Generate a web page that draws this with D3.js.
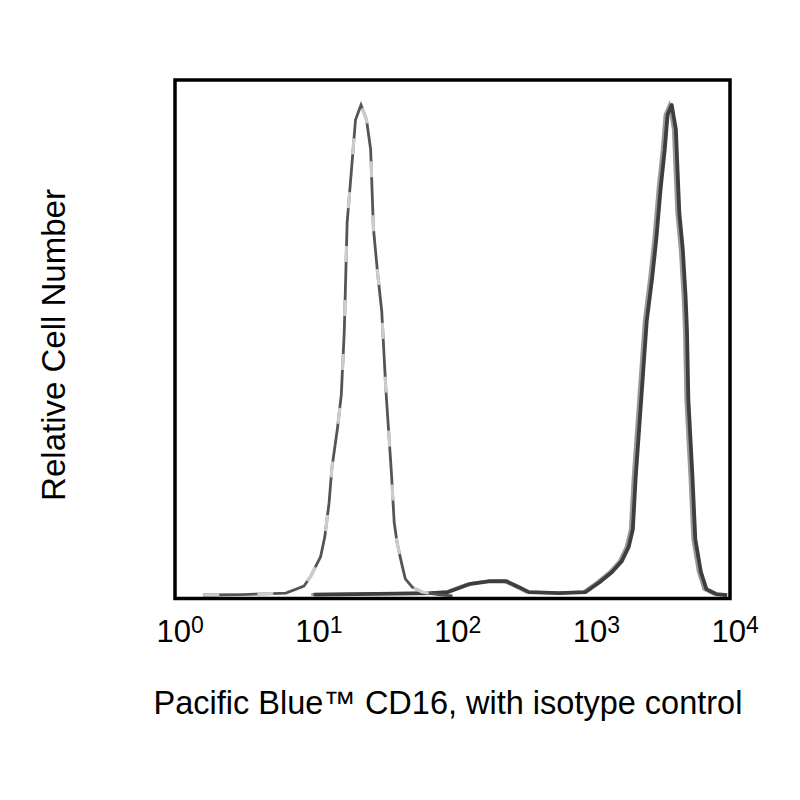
<!DOCTYPE html>
<html>
<head>
<meta charset="utf-8">
<script src="https://cdn.jsdelivr.net/npm/d3@7"></script>
<style>
  html, body { margin: 0; padding: 0; background: #fff; }
  svg { display: block; font-family: "Liberation Sans", Arial, sans-serif; }
</style>
</head>
<body>
<svg id="chart" width="800" height="800"></svg>
<script>
// ---- data ----
const tickValues = [1, 10, 100, 1000, 10000];
const tickExponents = ["0", "1", "2", "3", "4"];

// isotype control histogram: intensity and relative count (% of max)
const isoIntensity = [1.6, 3, 5, 6.3, 8.5, 9.5, 11.2, 12.0, 12.9, 13.5, 14.8, 15.8, 16.6, 17.4, 18.6, 20.0, 21.9, 24.0, 25.7, 26.9, 28.8, 30.9, 33.1, 36.3, 38.0, 39.8, 42.7, 45.7, 51.3, 60.3, 79, 100];
const isoCount     = [0.2, 0.3, 0.5, 0.6, 2, 4, 8, 12, 19, 26, 34, 41, 54, 76, 86, 97, 100, 97, 91, 75, 66, 58, 42, 25, 15, 11, 7, 3.5, 1.8, 0.8, 0.3, 0];

// Pacific Blue CD16 stained histogram
const cd16Intensity = [10, 20, 40, 70, 93, 132, 182, 245, 302, 355, 589, 912, 1148, 1413, 1660, 1862, 1995, 2089, 2291, 2512, 2754, 2951, 3162, 3388, 3548, 3802, 4074, 4169, 4315, 4571, 4786, 4898, 5012, 5370, 5623, 6166, 6761, 7943, 9550];
const cd16Count     = [0.3, 0.4, 0.5, 0.6, 0.8, 2.4, 3.0, 3.0, 1.8, 0.8, 0.6, 0.8, 2.8, 4.9, 7.1, 10, 13.6, 24, 40, 56, 65, 73, 83, 91, 98, 100, 95, 88, 78, 70.5, 61, 54, 40, 24, 11.6, 4.9, 1.4, 0.4, 0.2];

const xTitle = "Pacific Blue\u2122 CD16, with isotype control";
const yTitle = "Relative Cell Number";

// ---- layout ----
const svg = d3.select("#chart");
const pLeft = 175, pRight = 730, pTop = 80, pBottom = 598.5;

const x = d3.scaleLog().domain([1, 10000]).range([pLeft, pRight]);
const y = d3.scaleLinear().domain([0, 100]).range([596, 105]);

const iso = isoIntensity.map((v, i) => [v, isoCount[i]]);
const cd16 = cd16Intensity.map((v, i) => [v, cd16Count[i]]);

const line = d3.line().x(d => x(d[0])).y(d => y(d[1])).curve(d3.curveLinear);

const g = svg.append("g");

// CD16 curve: lighter shadow + dark main
g.append("path").datum(cd16)
  .attr("d", line).attr("fill", "none")
  .attr("stroke", "#9a9a9a").attr("stroke-width", 3)
  .attr("transform", "translate(-2.5,0)");
g.append("path").datum(cd16)
  .attr("d", line).attr("fill", "none")
  .attr("stroke", "#3e3e3e").attr("stroke-width", 3.8)
  .attr("stroke-linejoin", "round");

// isotype curve: gray with light dashes
g.append("path").datum(iso)
  .attr("d", line).attr("fill", "none")
  .attr("stroke", "#555").attr("stroke-width", 2.8);
g.append("path").datum(iso)
  .attr("d", line).attr("fill", "none")
  .attr("stroke", "#cccccc").attr("stroke-width", 3.2)
  .attr("stroke-dasharray", "16 38");

// frame
svg.append("rect")
  .attr("x", pLeft).attr("y", pTop)
  .attr("width", pRight - pLeft).attr("height", pBottom - pTop)
  .attr("fill", "none").attr("stroke", "#000").attr("stroke-width", 3.5);

// x axis tick labels via d3 axis
const axis = d3.axisBottom(x).tickValues(tickValues).tickSize(0).tickFormat(() => "");
const ax = svg.append("g").attr("transform", `translate(0,${pBottom})`).call(axis);
ax.select(".domain").remove();
ax.selectAll(".tick").each(function(d, i) {
  const t = d3.select(this).select("text");
  t.attr("text-anchor", "start").attr("x", -19).attr("y", 0).attr("dy", null)
   .attr("fill", "#000").style("font-size", "31px")
   .attr("transform", "translate(0,43.5)");
  t.append("tspan").text("10");
  t.append("tspan").text(tickExponents[i]).style("font-size", "23px").attr("dy", -9);
});

// axis titles
svg.append("text")
  .attr("x", 448).attr("y", 714)
  .attr("text-anchor", "middle")
  .style("font-size", "32.5px").attr("fill", "#000")
  .text(xTitle);

svg.append("text")
  .attr("transform", "translate(65,345) rotate(-90)")
  .attr("text-anchor", "middle")
  .style("font-size", "33px").attr("fill", "#000")
  .text(yTitle);
</script>
</body>
</html>
